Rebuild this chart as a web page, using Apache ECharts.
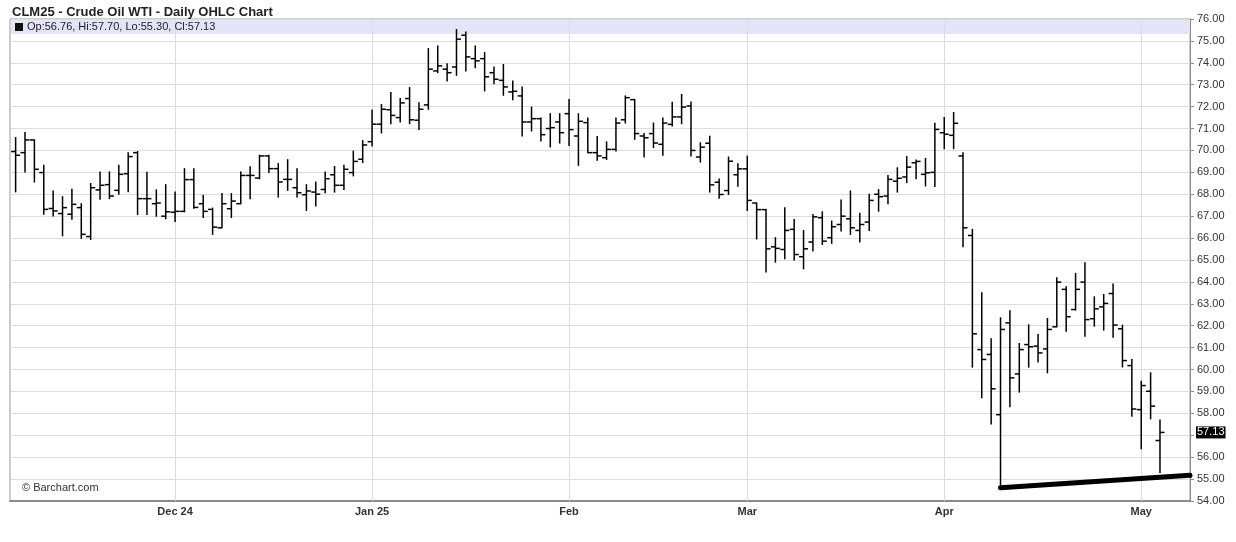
<!DOCTYPE html>
<html>
<head>
<meta charset="utf-8">
<script src="https://cdn.jsdelivr.net/npm/echarts@6/dist/echarts.min.js"></script>
<style>
html,body{margin:0;padding:0;background:#fff;}
#chart{width:1236px;height:542px;}
</style>
</head>
<body>
<div id="chart"></div>
<script>
// Trading days (Nov 6, 2024 – May 5, 2025)
const tradingDays = {
  '2024-11': [6,7,8,11,12,13,14,15,18,19,20,21,22,25,26,27,29],
  '2024-12': [2,3,4,5,6,9,10,11,12,13,16,17,18,19,20,23,24,26,27,30,31],
  '2025-01': [2,3,6,7,8,9,10,13,14,15,16,17,21,22,23,24,27,28,29,30,31],
  '2025-02': [3,4,5,6,7,10,11,12,13,14,18,19,20,21,24,25,26,27,28],
  '2025-03': [3,4,5,6,7,10,11,12,13,14,17,18,19,20,21,24,25,26,27,28,31],
  '2025-04': [1,2,3,4,7,8,9,10,11,14,15,16,17,21,22,23,24,25,28,29,30],
  '2025-05': [1,2,5]
};
// Month tick labels (first trading day of each month)
const tickMonths = ['2024-12','2025-01','2025-02','2025-03','2025-04','2025-05'];
const tickLabels = ['Dec 24','Jan 25','Feb','Mar','Apr','May'];

const opens = [69.95,69.90,70.48,68.99,67.35,67.12,67.09,67.39,66.07,68.20,68.44,68.18,68.94,69.90,67.80,67.57,67.00,
 67.18,67.22,68.67,67.57,67.31,66.47,67.34,67.57,68.86,68.74,69.75,69.17,68.68,68.30,67.98,68.10,68.22,68.89,68.41,68.99,69.60,
 70.40,71.20,71.86,71.50,72.37,71.38,72.08,73.63,73.71,73.81,75.26,74.19,74.19,73.55,73.20,72.67,72.49,71.30,71.45,71.00,71.30,
 71.68,70.66,71.27,69.90,69.67,70.05,71.40,72.32,70.66,70.77,70.28,71.19,71.53,72.03,69.70,70.33,68.55,68.17,68.89,
 69.16,67.60,67.30,65.60,65.48,66.40,65.15,65.82,66.93,66.02,66.62,66.88,66.35,66.73,68.00,67.92,68.60,68.79,69.44,68.91,69.00,
 70.81,70.69,69.75,66.12,60.91,60.69,57.94,62.13,59.80,61.14,61.07,60.94,61.95,63.66,62.74,63.99,62.32,62.86,63.47,61.86,60.18,
 58.17,59.01,56.76];
const highs = [70.59,70.82,70.48,69.33,68.15,67.89,68.23,67.57,68.49,69.02,69.02,69.33,69.90,69.95,69.00,68.20,68.44,
 68.10,69.17,69.17,67.95,67.37,68.03,68.03,69.02,69.26,69.78,69.78,69.40,69.58,69.17,68.44,68.56,69.02,69.27,69.32,69.97,70.45,
 71.85,72.10,72.64,72.37,72.87,72.18,74.65,74.77,73.96,75.52,75.41,74.77,74.47,73.81,73.92,73.17,72.90,71.98,71.48,71.68,71.68,
 72.33,71.68,71.48,70.64,70.39,71.48,72.49,72.32,70.77,71.25,71.48,72.20,72.56,72.21,70.35,70.65,68.70,69.70,69.39,
 69.74,67.60,67.30,66.02,67.39,66.85,66.35,67.08,67.20,66.78,67.74,68.15,67.13,68.00,68.22,68.86,69.21,69.72,69.56,69.64,71.24,
 71.50,71.73,69.90,66.40,63.50,61.40,62.36,62.68,61.19,62.04,61.60,62.33,64.19,63.78,64.39,64.87,63.32,63.43,63.91,62.03,60.46,
 59.47,59.85,57.70];
const lows = [68.11,69.02,68.56,67.09,67.01,66.10,66.86,65.99,65.94,67.77,67.80,68.00,68.11,67.08,67.08,67.00,66.88,
 66.76,67.20,67.36,66.94,66.17,66.47,66.94,67.57,67.80,68.71,68.99,67.87,68.18,67.87,67.26,67.46,68.07,68.10,68.22,68.84,69.45,
 70.20,70.80,71.22,71.30,71.22,70.96,71.88,73.55,73.17,73.43,73.63,73.77,72.72,73.05,72.52,72.32,70.66,70.89,70.43,70.16,70.34,
 70.23,69.32,69.90,69.55,69.59,69.97,71.25,70.51,69.70,70.13,69.78,71.12,71.22,69.75,69.47,68.10,67.82,67.99,68.37,
 67.26,65.96,64.45,64.90,65.06,65.00,64.60,65.41,65.71,65.76,66.32,66.17,65.82,66.35,67.23,67.57,68.10,68.53,68.71,68.38,68.35,
 70.08,70.08,65.60,60.11,58.71,57.52,54.60,58.30,58.97,60.11,60.34,59.85,61.95,61.75,62.71,61.52,61.98,61.80,61.47,60.12,57.87,
 56.38,57.75,55.30];
const closes = [69.78,70.48,69.14,67.31,67.24,67.39,67.54,66.17,68.30,68.41,67.92,68.91,69.72,67.80,67.80,67.60,67.20,
 67.22,68.67,67.40,67.22,66.50,67.57,67.69,68.86,68.86,69.75,69.17,68.56,68.68,68.07,68.15,68.00,68.71,68.41,69.14,69.50,70.25,
 71.20,71.88,71.60,72.17,71.40,71.88,73.71,73.86,73.55,75.08,74.27,74.09,73.36,73.25,72.90,72.70,71.30,71.45,70.72,71.04,70.81,
 70.95,71.33,69.90,69.75,70.05,71.25,72.41,70.77,70.58,70.34,71.25,71.53,71.98,70.00,70.15,68.43,67.99,69.51,69.16,
 67.72,67.30,65.51,65.53,66.35,65.25,65.51,66.97,65.86,66.52,67.00,66.47,66.62,67.72,67.89,68.68,68.73,69.24,69.50,68.98,70.96,
 70.74,71.24,66.47,61.63,60.46,59.12,61.83,59.62,60.91,61.04,60.76,61.83,63.99,62.41,63.66,62.28,62.77,63.02,62.03,60.41,58.20,
 59.27,58.33,57.13];

// Support (trend) line: start at Apr 9 low, to right edge
const trendX = [105, 125.2];
const trendY = [54.60, 55.17];

const yTicks = {min: 54, max: 76, step: 1};

// ---- build structures ----
const dates = [];
Object.keys(tradingDays).forEach(m => tradingDays[m].forEach(d => dates.push(m + '-' + String(d).padStart(2,'0'))));
const tickIdx = tickMonths.map(m => dates.findIndex(d => d.startsWith(m)));
const labelMap = {};
tickIdx.forEach((ix, k) => labelMap[ix] = tickLabels[k]);

const ohlc = dates.map((d, i) => [i, opens[i], highs[i], lows[i], closes[i]]);
const last = ohlc.length - 1;
const fmt = v => v.toFixed(2);

const chart = echarts.init(document.getElementById('chart'), null, {renderer: 'canvas'});
const FONT = '"Liberation Sans", Arial, sans-serif';

chart.setOption({
  animation: false,
  backgroundColor: '#fff',
  title: {
    text: 'CLM25 - Crude Oil WTI - Daily OHLC Chart',
    left: 7, top: 1,
    textStyle: {fontFamily: FONT, fontSize: 13, fontWeight: 'bold', color: '#222'}
  },
  grid: {left: 10, right: 46, top: 19, bottom: 41, show: true, borderColor: '#9a9a9a', borderWidth: 1, backgroundColor: 'transparent'},
  xAxis: {
    type: 'value', min: -0.6, max: 125.2,
    axisLine: {show: true, onZero: false, lineStyle: {color: '#8a8a8a', width: 2}},
    axisTick: {show: false},
    splitLine: {show: false},
    axisLabel: {
      customValues: tickIdx,
      formatter: v => labelMap[v] || '',
      fontFamily: FONT, fontSize: 11, fontWeight: 'bold', color: '#333', margin: 5
    }
  },
  yAxis: {
    type: 'value', position: 'right', min: yTicks.min, max: yTicks.max, interval: yTicks.step,
    axisLine: {show: true, onZero: false, lineStyle: {color: '#8a8a8a', width: 1}},
    axisTick: {show: true, length: 4, lineStyle: {color: '#8a8a8a'}},
    splitLine: {show: true, lineStyle: {color: '#dcdcdc', width: 1}},
    axisLabel: {formatter: v => fmt(v), fontFamily: FONT, fontSize: 11, color: '#333', margin: 7}
  },
  graphic: [
    {type: 'rect', left: 11, top: 20, shape: {width: 1179, height: 14}, style: {fill: '#e4e4f8'}, z: 1, silent: true},
    {type: 'rect', left: 15, top: 23, shape: {width: 8, height: 8}, style: {fill: '#111'}, z: 2, silent: true},
    {type: 'text', left: 27, top: 21, z: 2, silent: true,
     style: {text: 'Op:' + fmt(opens[last]) + ', Hi:' + fmt(highs[last]) + ', Lo:' + fmt(lows[last]) + ', Cl:' + fmt(closes[last]),
             font: '11px ' + FONT, fill: '#222'}},
    {type: 'text', left: 22, top: 482, z: 2, silent: true,
     style: {text: '© Barchart.com', font: '11px ' + FONT, fill: '#333'}}
  ],
  series: [
    {
      type: 'custom',
      data: ohlc,
      encode: {x: 0, y: [1, 2, 3, 4]},
      z: 3,
      renderItem: function (params, api) {
        const x = api.value(0);
        const o = api.coord([x, api.value(1)]);
        const h = api.coord([x, api.value(2)]);
        const l = api.coord([x, api.value(3)]);
        const c = api.coord([x, api.value(4)]);
        const t = 4.5;
        const st = {stroke: '#000', lineWidth: 1.5};
        return {type: 'group', children: [
          {type: 'line', shape: {x1: h[0], y1: h[1] - 0.5, x2: l[0], y2: l[1] + 0.5}, style: st},
          {type: 'line', shape: {x1: o[0] - t, y1: o[1], x2: o[0], y2: o[1]}, style: st},
          {type: 'line', shape: {x1: c[0], y1: c[1], x2: c[0] + t, y2: c[1]}, style: st}
        ]};
      },
      markLine: {
        silent: true, symbol: 'none',
        data: tickIdx.map(ix => ({xAxis: ix, lineStyle: {color: '#dcdcdc', width: 1, type: 'solid'}, label: {show: false}}))
          .concat([{yAxis: closes[last], lineStyle: {color: 'rgba(0,0,0,0)', width: 0},
            label: {show: true, position: 'end', formatter: fmt(closes[last]), backgroundColor: '#000', color: '#fff',
                    fontFamily: FONT, fontSize: 11, padding: [1, 1, 0, 1], distance: 6}}]),
        z: 1
      }
    },
    {
      type: 'line',
      data: trendX.map((x, k) => [x, trendY[k]]),
      symbol: 'none',
      lineStyle: {color: '#000', width: 5, cap: 'round'},
      z: 4, silent: true
    }
  ]
});
</script>
</body>
</html>
